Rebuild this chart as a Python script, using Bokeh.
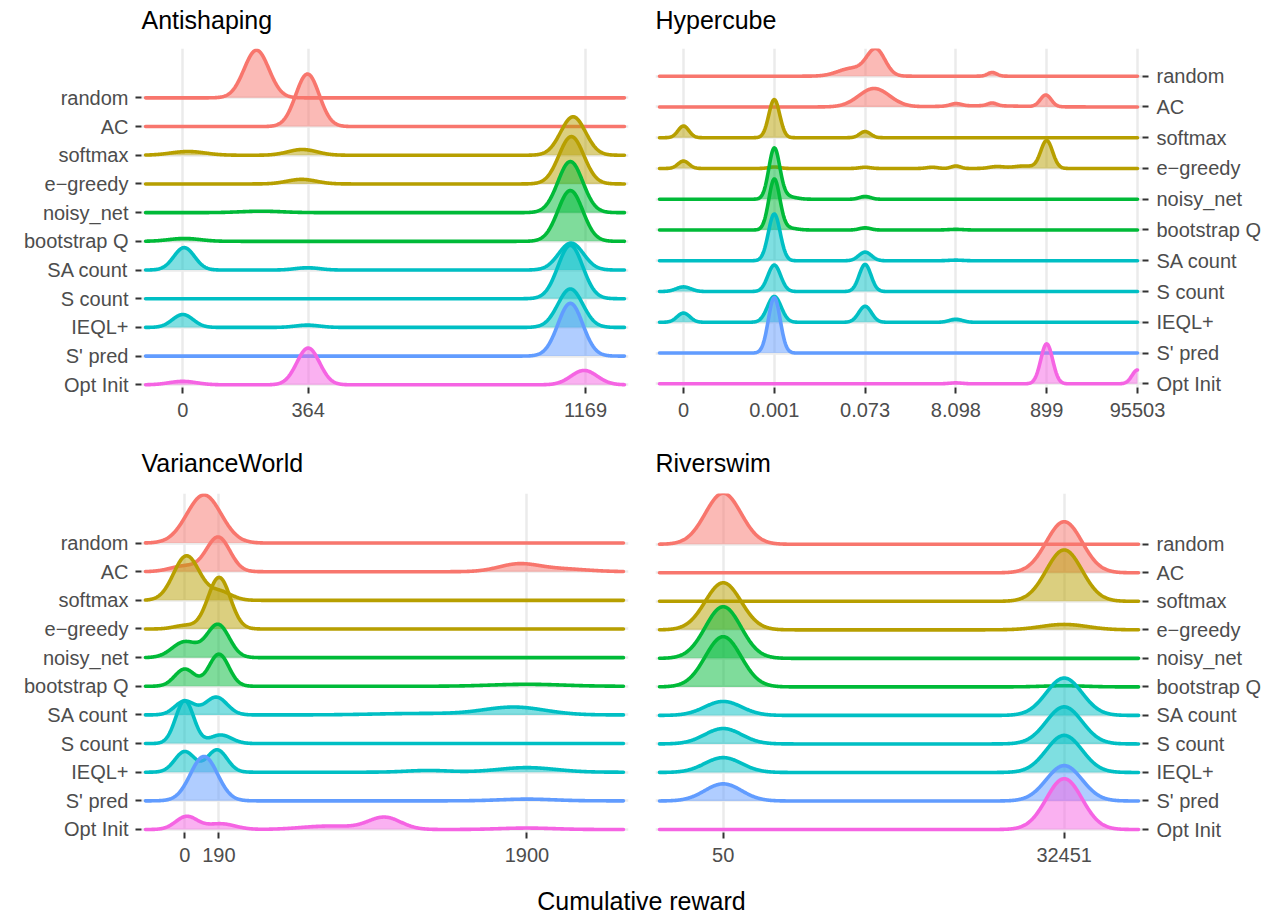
import numpy as np
from bokeh.plotting import figure
from bokeh.layouts import column, row
from bokeh.models import FixedTicker, Range1d
from bokeh.core.properties import value
from bokeh.embed import file_html
from bokeh.resources import INLINE

# ---------------- data ----------------
METHODS = ["random", "AC", "softmax", "e\u2212greedy", "noisy_net", "bootstrap Q",
           "SA count", "S count", "IEQL+", "S' pred", "Opt Init"]
COLORS = ["#F8766D", "#F8766D", "#B79F00", "#B79F00", "#00BA38", "#00BA38",
          "#00BFC4", "#00BFC4", "#00BFC4", "#619CFF", "#F564E3"]
PANEL_TITLES = ["Antishaping", "Hypercube", "VarianceWorld", "Riverswim"]
X_TITLE = "Cumulative reward"

# density bumps: (location, height in rows, spread)
ANTI_TICKS = [0, 364, 1169]
ANTI_LABELS = ["0", "364", "1169"]
ANTI_PEAKS = {
    "random": [(214, 1.66, 36)],
    "AC": [(362, 1.83, 34)],
    "softmax": [(15, 0.13, 50), (347, 0.20, 42), (1133, 1.34, 36)],
    "e\u2212greedy": [(345, 0.16, 42), (1128, 1.65, 36)],
    "noisy_net": [(228, 0.05, 60), (1125, 1.78, 36)],
    "bootstrap Q": [(5, 0.10, 45), (1125, 1.77, 36)],
    "SA count": [(4, 0.78, 30), (362, 0.08, 35), (1127, 0.94, 36)],
    "S count": [(1125, 1.86, 36)],
    "IEQL+": [(0, 0.45, 30), (362, 0.08, 35), (1125, 1.34, 36)],
    "S' pred": [(1125, 1.84, 36)],
    "Opt Init": [(0, 0.12, 40), (364, 1.28, 33), (1165, 0.50, 38)],
}

# Hypercube uses a log-type axis: positions are tick indices
HYPER_TICKS = [0, 1, 2, 3, 4, 5]
HYPER_LABELS = ["0", "0.001", "0.073", "8.098", "899", "95503"]
HYPER_PEAKS = {
    "random": [(1.85, 0.25, 0.15), (2.12, 0.85, 0.10), (3.40, 0.12, 0.05)],
    "AC": [(2.10, 0.60, 0.17), (3.30, 0.04, 0.40), (3.00, 0.08, 0.06), (3.40, 0.09, 0.05), (3.99, 0.38, 0.06)],
    "softmax": [(0.0, 0.38, 0.06), (1.0, 1.24, 0.06), (2.0, 0.20, 0.06)],
    "e\u2212greedy": [(0.0, 0.24, 0.06), (1.0, 0.05, 0.06), (2.0, 0.04, 0.06), (2.74, 0.04, 0.06),
                      (3.0, 0.08, 0.05), (3.45, 0.06, 0.08), (3.75, 0.08, 0.12), (4.0, 0.90, 0.065)],
    "noisy_net": [(1.0, 1.62, 0.06), (1.12, 0.10, 0.10), (2.0, 0.09, 0.06)],
    "bootstrap Q": [(1.0, 1.62, 0.06), (1.12, 0.08, 0.10), (2.0, 0.07, 0.06), (3.0, 0.02, 0.08)],
    "SA count": [(1.0, 1.52, 0.065), (2.0, 0.28, 0.07), (3.0, 0.02, 0.08)],
    "S count": [(0.0, 0.15, 0.08), (1.0, 0.86, 0.07), (2.0, 0.88, 0.065)],
    "IEQL+": [(0.0, 0.30, 0.07), (1.0, 0.84, 0.075), (2.0, 0.52, 0.07), (3.0, 0.10, 0.07)],
    "S' pred": [(1.0, 1.80, 0.065)],
    "Opt Init": [(3.0, 0.03, 0.07), (4.0, 1.30, 0.065), (5.0, 0.45, 0.06)],
}

VAR_TICKS = [0, 190, 1900]
VAR_LABELS = ["0", "190", "1900"]
VAR_PEAKS = {
    "random": [(107, 1.68, 95)],
    "AC": [(0, 0.20, 80), (186, 1.20, 65), (1850, 0.25, 110), (2080, 0.10, 150)],
    "softmax": [(10, 1.55, 72), (195, 0.30, 65)],
    "e\u2212greedy": [(0, 0.12, 60), (191, 1.80, 62)],
    "noisy_net": [(0, 0.55, 70), (185, 1.15, 62)],
    "bootstrap Q": [(0, 0.60, 55), (190, 1.12, 55), (1900, 0.07, 200)],
    "SA count": [(0, 0.48, 55), (175, 0.62, 60), (1300, 0.05, 250), (1830, 0.27, 170)],
    "S count": [(0, 1.50, 50), (200, 0.30, 60)],
    "IEQL+": [(0, 0.72, 55), (180, 0.78, 55), (1350, 0.06, 120), (1900, 0.16, 160)],
    "S' pred": [(107, 1.55, 75), (1900, 0.06, 150)],
    "Opt Init": [(10, 0.45, 60), (200, 0.20, 80), (800, 0.12, 150), (1110, 0.42, 90), (1900, 0.05, 150)],
}

RIVER_TICKS = [50, 32451]
RIVER_LABELS = ["50", "32451"]
RIVER_PEAKS = {
    "random": [(50, 1.79, 1700)],
    "AC": [(32451, 1.79, 1700)],
    "softmax": [(32451, 1.80, 1700)],
    "e\u2212greedy": [(50, 1.65, 1700), (32451, 0.19, 2200)],
    "noisy_net": [(50, 1.81, 1700)],
    "bootstrap Q": [(50, 1.76, 1700), (32451, 0.04, 2000)],
    "SA count": [(50, 0.49, 1750), (32451, 1.31, 1700)],
    "S count": [(50, 0.54, 1750), (32451, 1.30, 1700)],
    "IEQL+": [(50, 0.52, 1750), (32451, 1.30, 1700)],
    "S' pred": [(50, 0.60, 1750), (32451, 1.24, 1700)],
    "Opt Init": [(32451, 1.78, 1700)],
}

FONT = "Liberation Sans"
FRAME_W, FRAME_H = 487, 339
TOTAL_W = 1276


def panel(peaks, curve_span, x_span, y_span, ticks, labels, side, b_left, b_right):
    p = figure(frame_width=FRAME_W, frame_height=FRAME_H, title=None,
               x_range=Range1d(*x_span), y_range=Range1d(*y_span),
               output_backend="svg", toolbar_location=None,
               y_axis_location=side,
               min_border_left=b_left, min_border_right=b_right,
               min_border_top=6, min_border_bottom=50)
    p.outline_line_color = None
    p.background_fill_color = "white"
    p.border_fill_color = "white"

    p.xaxis.ticker = FixedTicker(ticks=ticks)
    p.yaxis.ticker = FixedTicker(ticks=list(range(len(METHODS))))
    p.xaxis.major_label_overrides = {t: l for t, l in zip(ticks, labels)}
    p.yaxis.major_label_overrides = {len(METHODS) - 1 - i: m for i, m in enumerate(METHODS)}
    for ax in (p.xaxis[0], p.yaxis[0]):
        ax.axis_line_color = None
        ax.major_tick_line_color = "#333333"
        ax.major_tick_line_width = 2
        ax.major_tick_out = 6
        ax.major_tick_in = 0
        ax.minor_tick_line_color = None
        ax.major_label_text_font = FONT
        ax.major_label_text_font_size = "20px"
        ax.major_label_text_color = "#4D4D4D"
    p.xaxis.major_label_standoff = 9
    p.yaxis.major_label_standoff = 7 if side == "left" else 8
    for g in (p.xgrid[0], p.ygrid[0]):
        g.grid_line_color = "#EBEBEB"
        g.grid_line_width = 2.5
        g.minor_grid_line_color = None

    xs = np.linspace(curve_span[0], curve_span[1], 900)
    n = len(METHODS)
    for i, m in enumerate(METHODS):
        base = n - 1 - i
        d = np.zeros_like(xs)
        for c, h, s in peaks[m]:
            d += h * np.exp(-0.5 * ((xs - c) / s) ** 2)
        p.varea(x=xs, y1=np.full_like(xs, base), y2=base + d,
                fill_color=COLORS[i], fill_alpha=0.5)
        p.line(xs, base + d, line_color=COLORS[i], line_width=3.6,
               line_join="round", line_cap="round")
    return p


def text_strip(height, xs, y, texts, align):
    s = figure(frame_width=TOTAL_W, frame_height=height, title=None,
               x_range=Range1d(0, TOTAL_W), y_range=Range1d(0, height),
               min_border=0, toolbar_location=None, output_backend="svg",
               x_axis_location=None, y_axis_location=None)
    s.outline_line_color = None
    s.grid.visible = False
    s.text(x=xs, y=[y] * len(xs), text=texts, text_align=align,
           text_baseline="alphabetic", text_font=value(FONT), text_font_size="25px",
           text_color="black")
    return s


tl = panel(ANTI_PEAKS, (-108, 1282), (-119.9, 1293.8), (-0.094, 11.72),
           ANTI_TICKS, ANTI_LABELS, "left", 141, 12)
tr = panel(HYPER_PEAKS, (-0.264, 5.0), (-0.308, 5.055), (-0.12, 10.9),
           HYPER_TICKS, HYPER_LABELS, "right", 15, 134)
bl = panel(VAR_PEAKS, (-218, 2436), (-240, 2464), (-0.105, 11.73),
           VAR_TICKS, VAR_LABELS, "left", 141, 12)
br = panel(RIVER_PEAKS, (-6003, 39513), (-6383, 39892), (-0.105, 11.78),
           RIVER_TICKS, RIVER_LABELS, "right", 15, 134)

t1 = text_strip(42, [141, 655], 23, PANEL_TITLES[:2], "left")
t2 = text_strip(50, [141, 655], 25, PANEL_TITLES[2:], "left")
lab = text_strip(32, [641], 14, [X_TITLE], "center")

layout = column(t1, row(tl, tr), t2, row(bl, br), lab)
open("out.html", "w").write(file_html(layout, INLINE))
